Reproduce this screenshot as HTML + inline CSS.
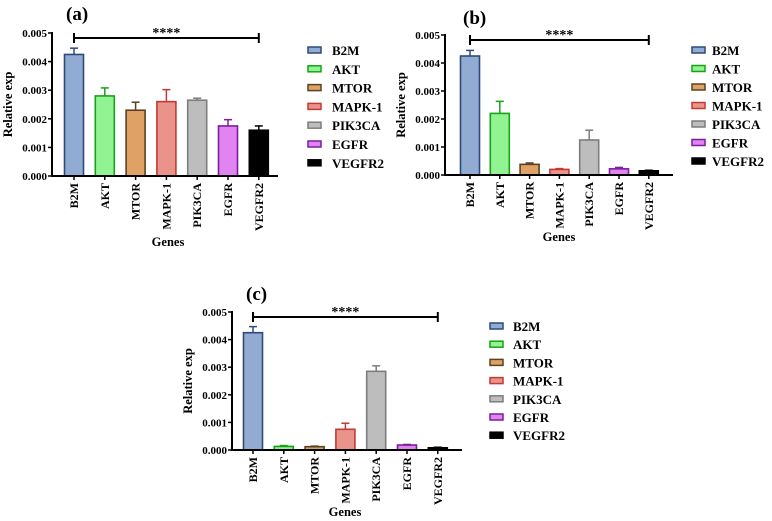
<!DOCTYPE html>
<html><head><meta charset="utf-8">
<style>
html,body{margin:0;padding:0;background:#fff;}
svg{display:block;font-family:"Liberation Serif",serif;font-weight:bold;}
</style></head>
<body>
<svg id="fig" width="772" height="521" viewBox="0 0 772 521" xmlns="http://www.w3.org/2000/svg"></svg>
<script>
const genes = ["B2M","AKT","MTOR","MAPK-1","PIK3CA","EGFR","VEGFR2"];
const yTicks = [0, 0.001, 0.002, 0.003, 0.004, 0.005];
const yTickLabels = ["0.000","0.001","0.002","0.003","0.004","0.005"];
const valuesA = [0.00425, 0.0028, 0.0023, 0.0026, 0.00265, 0.00175, 0.0016];
const errorsA = [0.00022, 0.00028, 0.00028, 0.00042, 0.00007, 0.00022, 0.00015];
const valuesB = [0.00425, 0.0022, 0.00038, 0.0002, 0.00125, 0.00022, 0.00015];
const errorsB = [0.0002, 0.00043, 0.00005, 0.00003, 0.00035, 0.00005, 0.00002];
const valuesC = [0.00425, 0.00013, 0.00012, 0.00075, 0.00285, 0.00018, 0.00008];
const errorsC = [0.00022, 0.00003, 0.00002, 0.00022, 0.0002, 0.00002, 0.00002];
const fills = ["#91abd2","#92f392","#e0a264","#ea938b","#bdbdbd","#e283f2","#000000"];
const strokes = ["#2d4a78","#17a317","#5a4222","#c23a34","#7d7d7d","#7a1f9a","#000000"];

const NS = "http://www.w3.org/2000/svg";
const svg = document.getElementById("fig");
function mk(tag, attrs, parent, text){
  const e = document.createElementNS(NS, tag);
  for (const k in attrs) e.setAttribute(k, attrs[k]);
  if (text !== undefined) e.textContent = text;
  (parent || svg).appendChild(e);
  return e;
}

function panel(p){
  const g = mk("g", {});
  
  
  const y = v => p.y0 - (v / 0.005) * (p.y0 - p.yTop);
  const x = i => p.x0 + i * p.step;
  const t = mk("text", {x:p.titleX, y:p.titleY, "font-size":19, fill:"#000"}, g, "(" + p.id + ")");
  
  
  genes.forEach((name, i) => {
    const bw = 19, cx = x(i);
    const top = y(p.vals[i]), et = y(p.vals[i] + p.errs[i]);
    const el = mk("line", {x1:cx, x2:cx, y1:top, y2:et, stroke:strokes[i], "stroke-width":1.5}, g);
    
    
    const cap = mk("line", {x1:cx-4, x2:cx+4, y1:et, y2:et, stroke:strokes[i], "stroke-width":1.5}, g);
    
    
    const r = mk("rect", {x:cx-bw/2, y:top, width:bw, height:Math.max(p.y0-top,0.5), fill:fills[i], stroke:strokes[i], "stroke-width":1.6}, g);
    
    
    mk("line", {x1:cx, x2:cx, y1:p.y0, y2:p.y0+4, stroke:"#000", "stroke-width":1.5}, g);
    const lbl = mk("text", {x:0, y:0, "font-size":12, "text-anchor":"end", transform:`translate(${cx+4},${p.y0+7}) rotate(-90)`}, g, name);
    
    
  });
  const ya = mk("line", {x1:p.axX, x2:p.axX, y1:p.yTop-1, y2:p.y0+1, stroke:"#000", "stroke-width":2}, g);
  
  
  const xa = mk("line", {x1:p.axX-1, x2:p.axEnd, y1:p.y0, y2:p.y0, stroke:"#000", "stroke-width":2}, g);
  
  
  yTicks.forEach((v, k) => {
    mk("line", {x1:p.axX-4, x2:p.axX, y1:y(v), y2:y(v), stroke:"#000", "stroke-width":1.5}, g);
    const tl = mk("text", {x:p.axX-5, y:y(v)+4, "font-size":11, "text-anchor":"end"}, g, yTickLabels[k]);
    
    
  });
  const yl = mk("text", {x:0, y:0, "font-size":12.5, "text-anchor":"middle", transform:`translate(${p.axX-40},${(p.y0+p.yTop)/2}) rotate(-90)`}, g, "Relative exp");
  
  
  const xl = mk("text", {x:p.genesX, y:p.genesY, "font-size":12.5, "text-anchor":"middle"}, g, "Genes");
  
  
  const bx1 = x(0), bx2 = x(6);
  const br = mk("line", {x1:bx1, x2:bx2, y1:p.brY, y2:p.brY, stroke:"#000", "stroke-width":2}, g);
  
  
  mk("line", {x1:bx1, x2:bx1, y1:p.brY-5, y2:p.brY+5, stroke:"#000", "stroke-width":2}, g);
  mk("line", {x1:bx2, x2:bx2, y1:p.brY-5, y2:p.brY+5, stroke:"#000", "stroke-width":2}, g);
  const st = mk("text", {x:(bx1+bx2)/2, y:p.brY-1, "font-size":14, "text-anchor":"middle"}, g, "****");
  
  
  genes.forEach((name, i) => {
    const ly = p.legY + i * p.legStep;
    const sw = mk("rect", {x:p.legX, y:ly-3, width:13, height:6, fill:fills[i], stroke:strokes[i], "stroke-width":1.5}, g);
    
    
    const lt = mk("text", {x:p.legX+p.legGap, y:ly+5, "font-size":13}, g, name);
    
    
  });
}

panel({id:"a", vals:valuesA, errs:errorsA, axX:52, axEnd:278, x0:74, step:30.8, yTop:33, y0:176,
  titleX:66, titleY:20, brY:38, genesX:168, genesY:246, legX:308, legGap:24, legY:50, legStep:18.8});
panel({id:"b", vals:valuesB, errs:errorsB, axX:445, axEnd:673, x0:470, step:29.8, yTop:35, y0:175,
  titleX:463, titleY:24, brY:40, genesX:559, genesY:241, legX:692, legGap:20, legY:50, legStep:18.5});
panel({id:"c", vals:valuesC, errs:errorsC, axX:232, axEnd:462, x0:253, step:30.8, yTop:312, y0:450,
  titleX:246, titleY:300, brY:317, genesX:345, genesY:516, legX:490, legGap:23, legY:326, legStep:18.2});
</script>
</body></html>
